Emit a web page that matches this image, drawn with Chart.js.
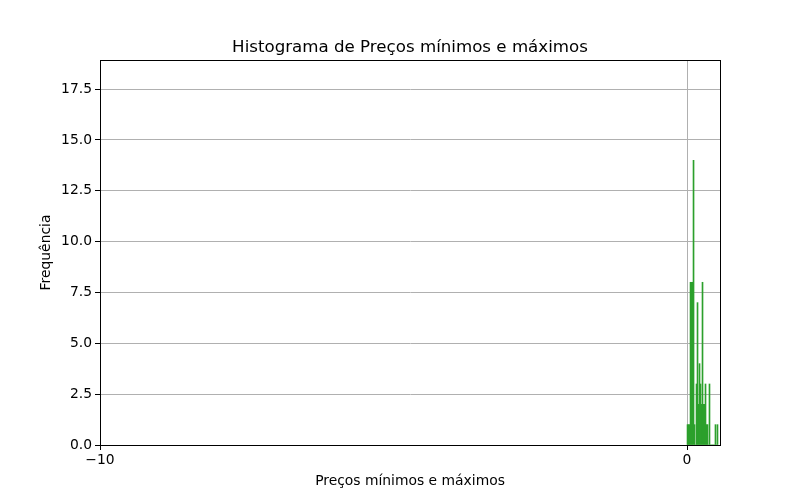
<!DOCTYPE html>
<html>
<head>
<meta charset="utf-8">
<script src="https://cdn.jsdelivr.net/npm/chart.js@4"></script>
<style>
  html, body { margin: 0; padding: 0; background: #ffffff; }
  #wrap { width: 800px; height: 500px; }
</style>
</head>
<body>
<div id="wrap"><canvas id="c" width="800" height="500"></canvas></div>
<script>
// Bin centres (price) and frequencies
const binCenters = [0.009, 0.026, 0.043, 0.060, 0.077, 0.094, 0.111, 0.128, 0.145, 0.162,
                    0.179, 0.196, 0.213, 0.230, 0.247, 0.264, 0.281, 0.298, 0.315, 0.332,
                    0.349, 0.366, 0.383, 0.400, 0.417, 0.434, 0.451, 0.468, 0.485, 0.502, 0.519];
const counts     = [1, 1, 1, 8, 8, 8, 14, 1, 0, 3,
                    7, 2, 4, 3, 2, 8, 2, 2, 3, 1,
                    1, 0, 3, 0, 0, 0, 0, 0, 1, 0, 1];
const xTickValues = [-10, 0];
const yTickValues = [0, 2.5, 5, 7.5, 10, 12.5, 15, 17.5];
const xMin = -10, xMax = 0.562;
const yMax = 18.93;

const titleText = 'Histograma de Preços mínimos e máximos';
const xLabel = 'Preços mínimos e máximos';
const yLabel = 'Frequência';

const FONT = "'DejaVu Sans', sans-serif";

const frame = {
  id: 'frame',
  afterDraw(chart) {
    const a = chart.chartArea, ctx = chart.ctx;
    ctx.save();
    ctx.strokeStyle = '#000';
    ctx.lineWidth = 1;
    ctx.strokeRect(Math.round(a.left) + 0.5, Math.round(a.top) + 0.5,
                   Math.round(a.right - a.left), Math.round(a.bottom - a.top));
    ctx.fillStyle = '#000';
    ctx.font = '16.67px ' + FONT;
    ctx.textAlign = 'center';
    ctx.textBaseline = 'alphabetic';
    ctx.fillText(titleText, (a.left + a.right) / 2, a.top - 8);
    ctx.restore();
  }
};

new Chart(document.getElementById('c'), {
  type: 'bar',
  data: {
    datasets: [{
      data: binCenters.map((x, i) => ({ x: x, y: counts[i] })),
      backgroundColor: '#2ca02c',
      borderWidth: 0,
      barPercentage: 1.0,
      categoryPercentage: 1.0
    }]
  },
  options: {
    responsive: false,
    animation: false,
    devicePixelRatio: 1,
    layout: { padding: { left: 38, right: 80, top: 60, bottom: 10 } },
    plugins: {
      legend: { display: false },
      tooltip: { enabled: false },
      title: { display: false }
    },
    scales: {
      x: {
        type: 'linear',
        min: xMin,
        max: xMax,
        offset: false,
        afterBuildTicks(scale) { scale.ticks = xTickValues.map(v => ({ value: v })); },
        afterFit(scale) { scale.height = 45; },
        grid: { color: '#b0b0b0', lineWidth: 1, tickColor: '#000', tickLength: 5, drawOnChartArea: true, offset: false },
        border: { display: true, color: '#000' },
        ticks: {
          color: '#000',
          font: { family: FONT, size: 13.89 },
          padding: 2,
          maxRotation: 0,
          callback: v => (v < 0 ? '\u2212' + Math.abs(v) : String(v))
        },
        title: {
          display: true, text: xLabel, color: '#000',
          font: { family: FONT, size: 13.89 }, padding: { top: 0, bottom: 0 }
        }
      },
      y: {
        type: 'linear',
        min: 0,
        max: yMax,
        afterBuildTicks(scale) { scale.ticks = yTickValues.map(v => ({ value: v })); },
        afterFit(scale) { scale.width = 62; },
        grid: { color: '#b0b0b0', lineWidth: 1, tickColor: '#000', tickLength: 5 },
        border: { display: true, color: '#000' },
        ticks: {
          color: '#000',
          font: { family: FONT, size: 13.89 },
          padding: 3,
          callback: v => v.toFixed(1)
        },
        title: {
          display: true, text: yLabel, color: '#000',
          font: { family: FONT, size: 13.89 }, padding: { top: 0, bottom: 0 }
        }
      }
    }
  },
  plugins: [frame]
});
</script>
</body>
</html>
